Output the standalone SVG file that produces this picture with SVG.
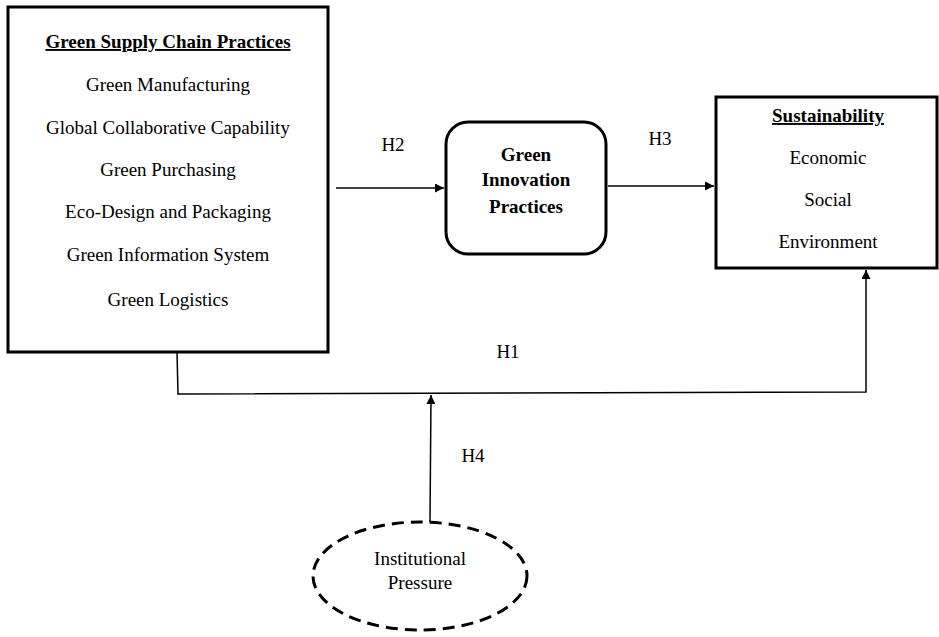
<svg xmlns="http://www.w3.org/2000/svg" width="939" height="637" viewBox="0 0 939 637" font-family="Liberation Serif, Times New Roman, serif">
<style>
text{font-family:"Liberation Serif","Times New Roman",serif;font-size:19px;fill:#000;text-anchor:middle}
.b{font-weight:bold}
.u{text-decoration:underline}
.box{fill:#fff;stroke:#000;stroke-width:3}
.ln{fill:none;stroke:#000;stroke-width:1.5}
</style>
<defs>
<marker id="ah" viewBox="0 0 10 10" refX="10" refY="5" markerWidth="9" markerHeight="9" markerUnits="userSpaceOnUse" orient="auto">
<path d="M0,0 L10,5 L0,10 z" fill="#000"/>
</marker>
</defs>
<rect width="939" height="637" fill="#fff"/>
<g id="connectors">
<line class="ln" x1="336" y1="188" x2="444" y2="188" marker-end="url(#ah)"/>
<line class="ln" x1="608" y1="186" x2="714" y2="186" marker-end="url(#ah)"/>
<polyline class="ln" points="177,352 178,394 866,392 866,270" marker-end="url(#ah)"/>
<line class="ln" x1="430" y1="522" x2="431" y2="395" marker-end="url(#ah)"/>
<text x="393" y="151">H2</text>
<text x="660" y="145">H3</text>
<text x="508" y="358">H1</text>
<text x="473" y="462">H4</text>
</g>
<g id="gscp">
<rect class="box" x="8" y="7" width="320" height="345"/>
<text x="168" y="48" class="b u">Green Supply Chain Practices</text>
<text x="168" y="91">Green Manufacturing</text>
<text x="168" y="134">Global Collaborative Capability</text>
<text x="168" y="176">Green Purchasing</text>
<text x="168" y="218">Eco-Design and Packaging</text>
<text x="168" y="261">Green Information System</text>
<text x="168" y="306">Green Logistics</text>
</g>
<g id="gip">
<rect class="box" x="446" y="122" width="160" height="132" rx="22"/>
<text x="526" y="161" class="b">Green</text>
<text x="526" y="186" class="b">Innovation</text>
<text x="526" y="213" class="b">Practices</text>
</g>
<g id="sust">
<rect class="box" x="716" y="97" width="221" height="171"/>
<text x="828" y="122" class="b u">Sustainability</text>
<text x="828" y="164">Economic</text>
<text x="828" y="206">Social</text>
<text x="828" y="248">Environment</text>
</g>
<g id="ip">
<ellipse cx="420" cy="576" rx="107" ry="54" fill="#fff" stroke="#000" stroke-width="3" stroke-dasharray="12,7"/>
<text x="420" y="565">Institutional</text>
<text x="420" y="589">Pressure</text>
</g>
</svg>
